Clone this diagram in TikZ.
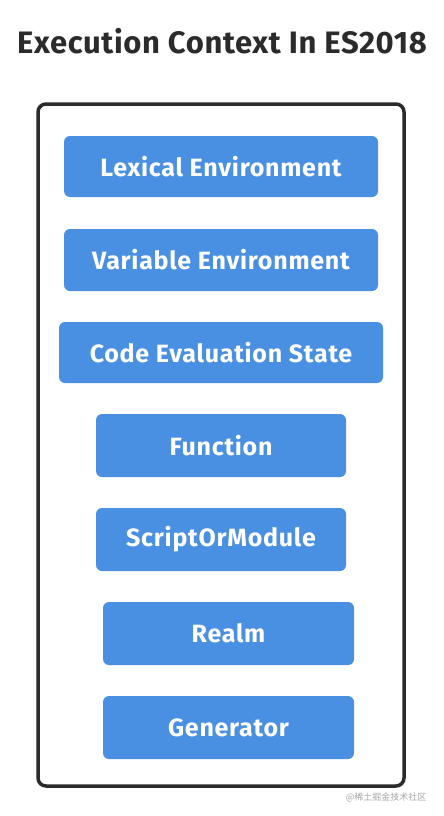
\documentclass[tikz,border=0pt]{standalone}
\usepackage{fontspec}
\setmainfont{Fira Sans}
\newfontfamily\cjk{Noto Sans CJK SC}
\definecolor{boxblue}{HTML}{4A90E2}
\definecolor{frame}{HTML}{2B2B2B}
\begin{document}
\begin{tikzpicture}[x=1pt,y=-1pt,
  itemfill/.style={fill=boxblue, rounded corners=6pt},
  itemtext/.style={text=white, font=\bfseries\fontsize{25}{28}\selectfont\addfontfeatures{LetterSpace=3}, inner sep=0pt},
]
\useasboundingbox (0,0) rectangle (444,816);
\fill[white] (0,0) rectangle (444,816);
\node[font=\bfseries\fontsize{31}{34}\selectfont\addfontfeatures{LetterSpace=2}, text=frame, inner sep=0pt] (title) at (222,41) {Execution Context In ES2018};
\draw[frame, line width=3.5pt, rounded corners=8pt] (38,104) rectangle (404,786);
\newcommand\itembox[6]{%
  \fill[itemfill] (#2,#3) rectangle (#4,#5);
  \node[itemtext] (#1) at ({(#2+#4)/2},{(#3+#5)/2}) {#6};}
\itembox{lex}{64}{136}{378}{197}{Lexical Environment}
\itembox{var}{64}{229}{378}{291}{Variable Environment}
\itembox{code}{59}{322}{383}{383}{Code Evaluation State}
\itembox{fun}{96}{414}{346}{477}{Function}
\itembox{sm}{96}{508}{346}{571}{ScriptOrModule}
\itembox{realm}{103}{602}{354}{665}{Realm}
\itembox{gen}{103}{696}{354}{759}{Generator}
\node[anchor=east, text=gray!70, font=\cjk\fontsize{9}{10}\selectfont] (wm) at (430,797) {@稀土掘金技术社区};
\end{tikzpicture}
\end{document}
